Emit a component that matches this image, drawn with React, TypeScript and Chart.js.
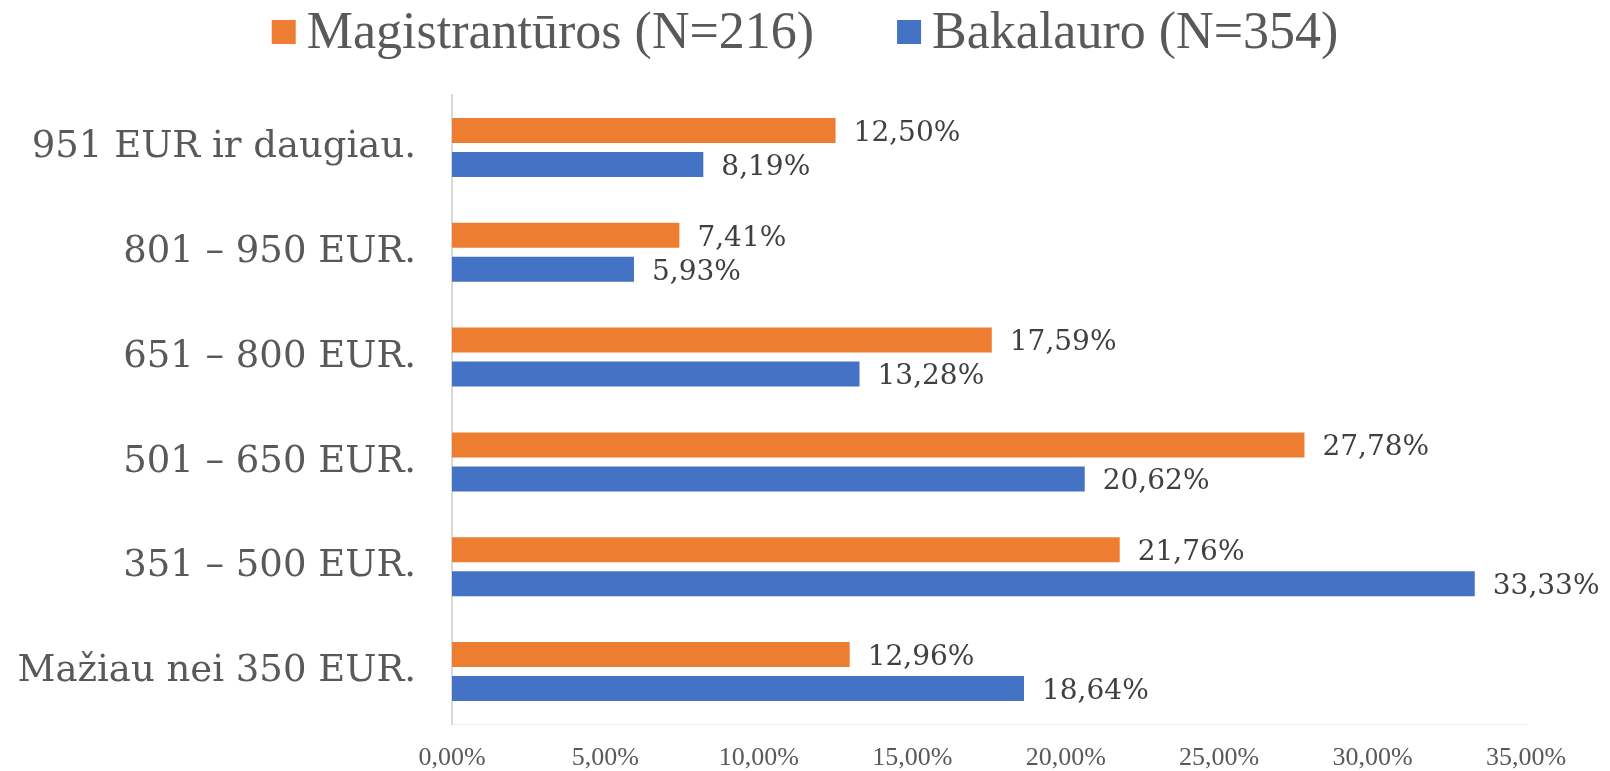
import React, { useEffect, useRef } from "react";
import { Chart, registerables } from "chart.js";

Chart.register(...registerables);

const categories = [
  "951 EUR ir daugiau.",
  "801 – 950 EUR.",
  "651 – 800 EUR.",
  "501 – 650 EUR.",
  "351 – 500 EUR.",
  "Mažiau nei 350 EUR.",
];
const seriesNames = ["Magistrantūros (N=216)", "Bakalauro (N=354)"];
const magistrantura = [12.5, 7.41, 17.59, 27.78, 21.76, 12.96];
const bakalauras = [8.19, 5.93, 13.28, 20.62, 33.33, 18.64];
const seriesColors = ["#ED7D31", "#4472C4"];
const xMin = 0;
const xMax = 35;
const xStep = 5;

const fmt = (v: number) => v.toFixed(2).replace(".", ",") + "%";

const legendPlugin = {
  id: "customLegend",
  afterDraw(chart: any) {
    const ctx = chart.ctx;
    ctx.save();
    ctx.font = "52px 'Liberation Serif'";
    const box = 24;
    const gapBoxText = 11;
    const itemGap = 83;
    const items = chart.data.datasets.map((d: any) => ({
      label: d.label,
      color: d.backgroundColor,
      w: ctx.measureText(d.label).width,
    }));
    let total = 0;
    items.forEach((it: any, i: number) => {
      total += box + gapBoxText + it.w + (i > 0 ? itemGap : 0);
    });
    let x = chart.width / 2 - total / 2;
    const baseline = 48;
    items.forEach((it: any) => {
      ctx.fillStyle = it.color;
      ctx.fillRect(x, 20, box, box);
      x += box + gapBoxText;
      ctx.fillStyle = "#595959";
      ctx.textAlign = "left";
      ctx.textBaseline = "alphabetic";
      ctx.fillText(it.label, x, baseline);
      x += it.w + itemGap;
    });
    ctx.restore();
  },
};

const dataLabelPlugin = {
  id: "barValueLabels",
  afterDatasetsDraw(chart: any) {
    const ctx = chart.ctx;
    ctx.save();
    ctx.font = "28px 'DejaVu Serif'";
    ctx.fillStyle = "#404040";
    ctx.textAlign = "left";
    ctx.textBaseline = "middle";
    chart.data.datasets.forEach((ds: any, di: number) => {
      const meta = chart.getDatasetMeta(di);
      meta.data.forEach((bar: any, i: number) => {
        ctx.fillText(fmt(ds.data[i]), bar.x + 18, bar.y + 3);
      });
    });
    ctx.restore();
  },
};

export default function App() {
  const ref = useRef<HTMLCanvasElement | null>(null);

  useEffect(() => {
    document.body.style.margin = "0";
    if (!ref.current) return;
    const chart = new Chart(ref.current, {
      type: "bar",
      data: {
        labels: categories,
        datasets: [
          {
            label: seriesNames[0],
            data: magistrantura,
            backgroundColor: seriesColors[0],
            categoryPercentage: 0.649,
            barPercentage: 0.735,
          },
          {
            label: seriesNames[1],
            data: bakalauras,
            backgroundColor: seriesColors[1],
            categoryPercentage: 0.649,
            barPercentage: 0.735,
          },
        ],
      },
      options: {
        indexAxis: "y",
        responsive: false,
        animation: false,
        layout: { padding: { top: 95, right: 84, left: 0, bottom: 0 } },
        plugins: {
          legend: { display: false },
          tooltip: { enabled: false },
        },
        scales: {
          x: {
            min: xMin,
            max: xMax,
            grid: { display: false, drawTicks: false },
            border: { display: true, color: "#ececec", width: 1 },
            ticks: {
              stepSize: xStep,
              padding: 21,
              color: "#595959",
              font: { family: "'Liberation Serif'", size: 26, lineHeight: 1 },
              callback: (v: any) => fmt(Number(v)),
            },
            afterFit: (scale: any) => {
              scale.height = 47;
            },
          },
          y: {
            grid: { display: false, drawTicks: false },
            border: { display: true, color: "#d9d9d9", width: 2 },
            ticks: {
              padding: 36,
              color: "#595959",
              font: { family: "'DejaVu Serif'", size: 37 },
            },
            afterFit: (scale: any) => {
              scale.width = 452;
              scale.paddingTop = 0;
              scale.paddingBottom = 0;
            },
          },
        },
      },
      plugins: [legendPlugin, dataLabelPlugin],
    });
    return () => chart.destroy();
  }, []);

  return (
    <div style={{ width: 1610, height: 771, background: "#ffffff" }}>
      <canvas ref={ref} width={1610} height={771} />
    </div>
  );
}
